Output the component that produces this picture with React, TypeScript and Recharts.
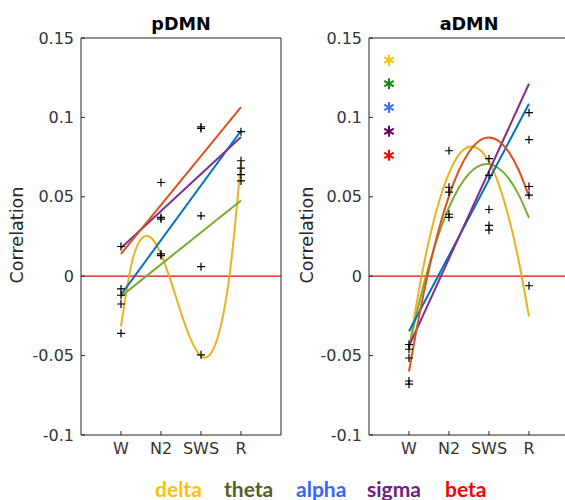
import React from "react";
import { ComposedChart, Line, Scatter, XAxis, YAxis, ReferenceLine } from "recharts";

const stages = ["W", "N2", "SWS", "R"];
const stageX = [1, 2, 3, 4];
const yTicks = [-0.1, -0.05, 0, 0.05, 0.1, 0.15];

const bands = ["delta", "theta", "alpha", "sigma", "beta"];
const bandTextColors = ["#FFC000", "#4F6228", "#3366FF", "#70207F", "#FF0000"];
const bandLineColors = ["#EDB120", "#77AC30", "#0072BD", "#7E2F8E", "#D95319"];
const starColors = ["#FFC000", "#138A13", "#3F6FFF", "#660066", "#FF0000"];

// subject points per stage (W, N2, SWS, R)
const pdmnPoints = [
  [0.0187, -0.008, -0.012, -0.0175, -0.036],
  [0.059, 0.037, 0.036, 0.014, 0.013],
  [0.094, 0.093, 0.038, 0.006, -0.0495],
  [0.091, 0.0727, 0.068, 0.064, 0.06],
];
const admnPoints = [
  [-0.043, -0.046, -0.0515, -0.066, -0.068],
  [0.079, 0.056, 0.053, 0.039, 0.037],
  [0.074, 0.0635, 0.042, 0.032, 0.029],
  [0.103, 0.086, 0.0565, 0.051, -0.006],
];

// fitted curves
const curveX = [1, 1.25, 1.5, 1.75, 2, 2.25, 2.5, 2.75, 3, 3.25, 3.5, 3.75, 4];
const lineX = [1, 4];

const pdmnDelta = [-0.0316, 0.0062, 0.0233, 0.0243, 0.0139, -0.0034, -0.023, -0.0401, -0.0502, -0.0486, -0.0308, 0.008, 0.0723];
const pdmnTheta = [-0.0127, 0.0477];
const pdmnAlpha = [-0.0117, 0.0916];
const pdmnSigma = [0.0178, 0.0876];
const pdmnBeta = [0.014, 0.1065];

const admnDelta = [-0.0462, -0.0087, 0.0224, 0.0469, 0.0649, 0.0765, 0.0815, 0.08, 0.0719, 0.0574, 0.0363, 0.0088, -0.0253];
const admnTheta = [-0.045, -0.0172, 0.0068, 0.0269, 0.0433, 0.0558, 0.0646, 0.0695, 0.0706, 0.0678, 0.0613, 0.0509, 0.0367];
const admnAlpha = [-0.0347, 0.1086];
const admnSigma = [-0.044, 0.1212];
const admnBeta = [-0.06, -0.0255, 0.0045, 0.0299, 0.0506, 0.0667, 0.0782, 0.0851, 0.0873, 0.085, 0.078, 0.0664, 0.0502];

// significance stars (aDMN)
const starX = 0.5;
const starY = [0.136, 0.1212, 0.1063, 0.0912, 0.0761];

const font = "'DejaVu Sans', sans-serif";
const axisColor = "#262626";

const toPts = (xs: number[], ys: number[]) => xs.map((x, i) => ({ x, y: ys[i] }));

const Plus = (props: any) => {
  const { cx, cy } = props;
  return (
    <path
      d={`M${cx - 4},${cy}H${cx + 4}M${cx},${cy - 4}V${cy + 4}`}
      stroke="#000"
      strokeWidth={1.2}
      fill="none"
    />
  );
};

const Star = (props: any) => {
  const { cx, cy, payload } = props;
  const r = 5.5;
  const dx = r * 0.866;
  const dy = r * 0.5;
  return (
    <path
      d={`M${cx},${cy - r}V${cy + r}M${cx - dx},${cy - dy}L${cx + dx},${cy + dy}M${cx - dx},${cy + dy}L${cx + dx},${cy - dy}`}
      stroke={payload.color}
      strokeWidth={2}
      fill="none"
    />
  );
};

function Panel({
  points,
  fits,
  stars,
}: {
  points: number[][];
  fits: { xs: number[]; ys: number[]; color: string }[];
  stars?: boolean;
}) {
  const scatter = points.flatMap((vals, i) => vals.map((v) => ({ x: stageX[i], y: v })));
  const starData = starY.map((y, i) => ({ x: starX, y, color: starColors[i] }));
  const tickStyle = { fill: "#333", fontSize: 16, fontFamily: font };
  return (
    <ComposedChart width={290} height={500} margin={{ top: 37, right: 8, bottom: 35, left: 0 }}>
      <XAxis
        xAxisId="b"
        type="number"
        dataKey="x"
        domain={[0, 5]}
        ticks={stageX}
        allowDataOverflow
        tickFormatter={(v) => stages[stageX.indexOf(v)] ?? ""}
        tick={tickStyle}
        tickSize={-4}
        tickMargin={12}
        stroke={axisColor}
        height={30}
      />
      <XAxis
        xAxisId="t"
        orientation="top"
        type="number"
        dataKey="x"
        domain={[0, 5]}
        ticks={stageX}
        allowDataOverflow
        tick={false}
        tickSize={-4}
        stroke={axisColor}
        height={1}
      />
      <YAxis
        yAxisId="l"
        type="number"
        domain={[-0.1, 0.15]}
        ticks={yTicks}
        allowDataOverflow
        tickFormatter={(v) => String(v)}
        tick={tickStyle}
        tickSize={-4}
        tickMargin={11}
        stroke={axisColor}
        width={81}
      />
      <YAxis
        yAxisId="r"
        orientation="right"
        type="number"
        domain={[-0.1, 0.15]}
        ticks={yTicks}
        allowDataOverflow
        tick={false}
        tickSize={-4}
        stroke={axisColor}
        width={1}
      />
      <ReferenceLine xAxisId="b" yAxisId="l" y={0} stroke="#FF0000" strokeWidth={1.2} />
      {fits.map((f, i) => (
        <Line
          key={i}
          xAxisId="b"
          yAxisId="l"
          data={toPts(f.xs, f.ys)}
          dataKey="y"
          type="natural"
          stroke={f.color}
          strokeWidth={2}
          dot={false}
          isAnimationActive={false}
        />
      ))}
      <Scatter xAxisId="b" yAxisId="l" data={scatter} dataKey="y" shape={Plus} isAnimationActive={false} />
      {stars && (
        <Scatter xAxisId="b" yAxisId="l" data={starData} dataKey="y" shape={Star} isAnimationActive={false} />
      )}
    </ComposedChart>
  );
}

export default function App() {
  const pdmnFits = [
    { xs: curveX, ys: pdmnDelta, color: bandLineColors[0] },
    { xs: lineX, ys: pdmnTheta, color: bandLineColors[1] },
    { xs: lineX, ys: pdmnAlpha, color: bandLineColors[2] },
    { xs: lineX, ys: pdmnSigma, color: bandLineColors[3] },
    { xs: lineX, ys: pdmnBeta, color: bandLineColors[4] },
  ];
  const admnFits = [
    { xs: curveX, ys: admnDelta, color: bandLineColors[0] },
    { xs: curveX, ys: admnTheta, color: bandLineColors[1] },
    { xs: lineX, ys: admnAlpha, color: bandLineColors[2] },
    { xs: lineX, ys: admnSigma, color: bandLineColors[3] },
    { xs: curveX, ys: admnBeta, color: bandLineColors[4] },
  ];
  const legendX = [155, 224, 296, 367, 445];

  return (
    <div
      style={{
        position: "absolute",
        left: 0,
        top: 0,
        width: 565,
        height: 500,
        overflow: "hidden",
        background: "#fff",
      }}
    >
      <div style={{ position: "absolute", left: 0, top: 0 }}>
        <Panel points={pdmnPoints} fits={pdmnFits} />
      </div>
      <div style={{ position: "absolute", left: 288, top: 0 }}>
        <Panel points={admnPoints} fits={admnFits} stars />
      </div>
      <svg width={565} height={500} style={{ position: "absolute", left: 0, top: 0, pointerEvents: "none" }}>
        <text x={181} y={30} textAnchor="middle" fontFamily={font} fontWeight="bold" fontSize={17.6} fill="#000">
          pDMN
        </text>
        <text x={469} y={30} textAnchor="middle" fontFamily={font} fontWeight="bold" fontSize={17.6} fill="#000">
          aDMN
        </text>
        <text x={23} y={235} textAnchor="middle" fontFamily={font} fontSize={17.6} fill={axisColor} transform="rotate(-90 23 235)">
          Correlation
        </text>
        <text x={313} y={235} textAnchor="middle" fontFamily={font} fontSize={17.6} fill={axisColor} transform="rotate(-90 313 235)">
          Correlation
        </text>
        {bands.map((b, i) => (
          <text key={b} x={legendX[i]} y={497} fontFamily="Lato, sans-serif" fontWeight="bold" fontSize={21} fill={bandTextColors[i]}>
            {b}
          </text>
        ))}
      </svg>
    </div>
  );
}
